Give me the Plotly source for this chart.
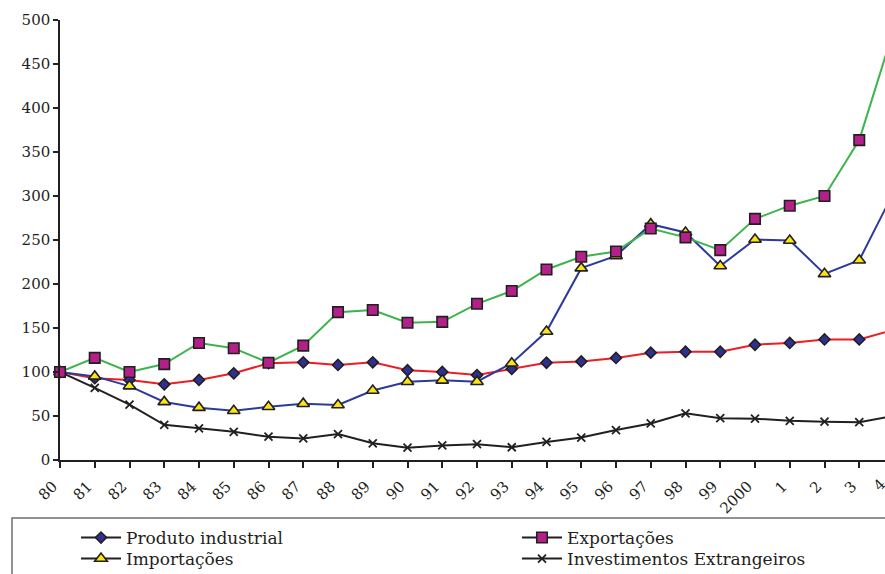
import plotly.graph_objects as go

# Year labels (1980 .. 2004, abbreviated as printed on the axis)
anos = ["80", "81", "82", "83", "84", "85", "86", "87", "88", "89",
        "90", "91", "92", "93", "94", "95", "96", "97", "98", "99",
        "2000", "1", "2", "3", "4"]

# Index numbers, 1980 = 100
produto_industrial = [100, 93, 91, 86, 91, 98.5, 110, 111, 108, 111,
                      102, 100, 96.5, 103.5, 110.5, 112, 116, 122, 123, 123,
                      131, 133, 137, 137, 148]
exportacoes = [100, 116, 100, 109, 133, 127, 110.5, 130, 168, 170.5,
               156, 157, 177.5, 192, 216.5, 231, 237, 263, 253, 238.5,
               274, 289, 300, 363.5, 490]
importacoes = [100, 95, 84, 66, 59.5, 56, 60.5, 64, 62.5, 79,
               89, 90.5, 89, 110, 146, 218, 232, 268, 258.5, 220.5,
               250.5, 249.5, 211.5, 227, 305]
investimentos = [100, 82, 63, 40, 36, 32, 26.5, 24.5, 29.5, 19,
                 14, 16.5, 18, 14.5, 20.5, 25.5, 34, 41.5, 53, 47.5,
                 47, 44.5, 43.5, 43, 50]

W, H = 885, 574
ML, MR, MT, MB = 60, 0, 20, 114
STEP = 34.75                      # pixel spacing between years
XMAX = (W - ML - MR) / STEP       # visible end of the category axis
idx = list(range(len(anos)))

FONT = "DejaVu Serif"
INK = "#231f20"
TICK_FONT = dict(family=FONT, size=15, color=INK)

series = [
    # name, values, line colour, marker symbol, marker fill, size, legend id
    ("Produto industrial", produto_industrial, "#ee1c24", "diamond", "#2e3192", 8.5, "legend"),
    ("Exportações", exportacoes, "#3cb44a", "square", "#b4208a", 10.5, "legend2"),
    ("Importações", importacoes, "#2e3a9a", "triangle-up", "#fbe516", 11, "legend3"),
    ("Investimentos Extrangeiros", investimentos, "#231f20", "x-thin", INK, 8, "legend4"),
]

fig = go.Figure()

# draw order keeps the coloured markers on top of the black series
for name, vals, lc, sym, fill, size, _ in [series[3], series[0], series[2], series[1]]:
    marker = dict(symbol=sym, size=size, color=fill,
                  line=dict(color=INK, width=1.6 if sym != "x-thin" else 1.8))
    fig.add_trace(go.Scatter(
        x=idx, y=vals, mode="lines+markers", name=name,
        line=dict(color=lc, width=2), marker=marker,
        cliponaxis=False, showlegend=False, hoverinfo="x+y"))

# legend entries use black lines
for name, vals, lc, sym, fill, size, leg in series:
    marker = dict(symbol=sym, size=size, color=fill,
                  line=dict(color=INK, width=1.6 if sym != "x-thin" else 1.8))
    fig.add_trace(go.Scatter(
        x=[None], y=[None], mode="lines+markers", name=name,
        line=dict(color=INK, width=2), marker=marker,
        showlegend=True, legend=leg))

def px_to_paper_x(px):
    return (px - ML) / (W - ML - MR)

def px_to_paper_y(py):
    return (H - MB - py) / (H - MT - MB)

legend_font = dict(family=FONT, size=17, color=INK)
leg_common = dict(font=legend_font, bgcolor="rgba(0,0,0,0)", borderwidth=0,
                  itemwidth=40, xanchor="left", yanchor="middle",
                  orientation="v")
col1, col2 = px_to_paper_x(76), px_to_paper_x(517)
row1, row2 = px_to_paper_y(538), px_to_paper_y(559)

fig.update_layout(
    width=W, height=H,
    margin=dict(l=ML, r=MR, t=MT, b=MB, pad=0, autoexpand=False),
    paper_bgcolor="white", plot_bgcolor="white",
    font=dict(family=FONT, size=15, color=INK),
    legend=dict(x=col1, y=row1, **leg_common),
    legend2=dict(x=col2, y=row1, **leg_common),
    legend3=dict(x=col1, y=row2, **leg_common),
    legend4=dict(x=col2, y=row2, **leg_common),
    xaxis=dict(
        range=[0, XMAX], tickmode="array", tickvals=idx, ticktext=anos,
        tickangle=-45, ticks="outside", ticklen=6, tickwidth=1.5, tickcolor=INK,
        ticklabelstandoff=4, ticklabelshift=-7,
        showline=True, linecolor=INK, linewidth=1.5, automargin=False,
        showgrid=False, zeroline=False, tickfont=TICK_FONT,
    ),
    yaxis=dict(
        range=[0, 500], tickmode="linear", tick0=0, dtick=50,
        ticks="outside", ticklen=5, tickwidth=1.5, tickcolor=INK,
        showline=True, linecolor=INK, linewidth=1.5, automargin=False,
        showgrid=False, zeroline=False, tickfont=TICK_FONT,
    ),
    shapes=[dict(type="rect", xref="paper", yref="paper",
                 x0=px_to_paper_x(12), x1=px_to_paper_x(W + 20),
                 y0=px_to_paper_y(518), y1=px_to_paper_y(H + 20),
                 line=dict(color="#6d6e71", width=1.5), fillcolor="rgba(0,0,0,0)")],
)

# the last year's tick falls just past the right edge; its label is still partly visible
last = len(anos) - 1
fig.add_annotation(
    text=anos[last], xref="paper", yref="paper",
    x=(last * STEP - 14.5) / (W - ML - MR), y=px_to_paper_y(485),
    textangle=-45, showarrow=False, xanchor="center", yanchor="middle",
    font=TICK_FONT)

fig.write_html("out.html")
